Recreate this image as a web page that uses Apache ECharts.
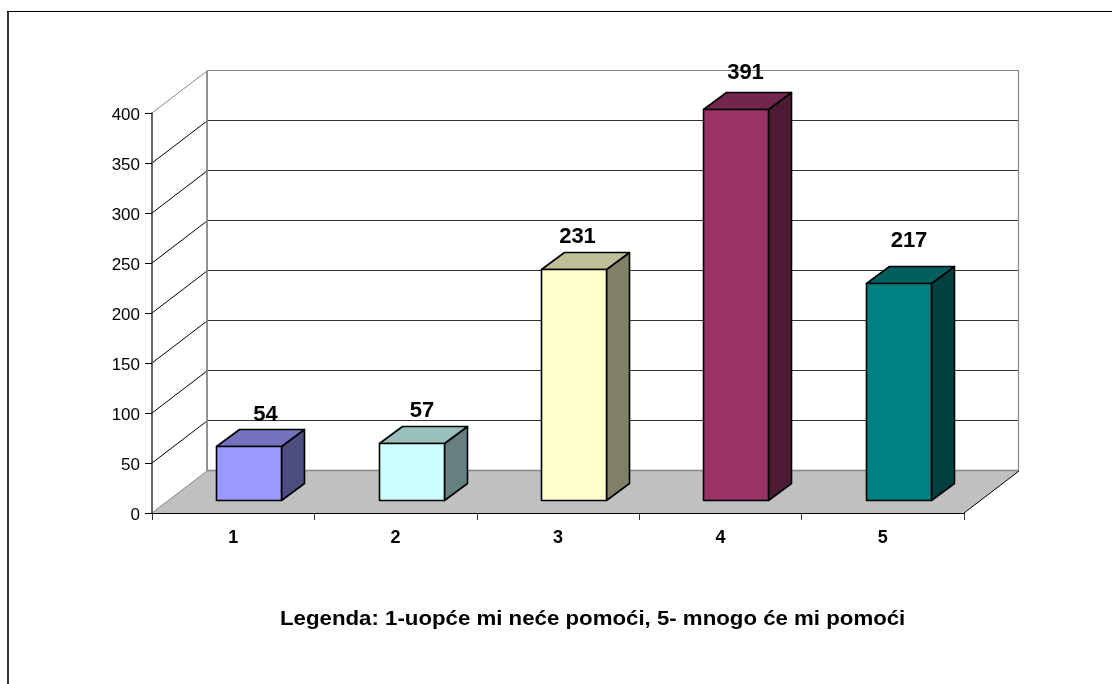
<!DOCTYPE html>
<html><head><meta charset="utf-8">
<style>html,body{margin:0;padding:0;background:#fff}#c{width:1112px;height:684px}</style>
<script src="https://cdn.jsdelivr.net/npm/echarts@6/dist/echarts.min.js"></script>
</head><body><div id="c"></div>
<script>
const categories = ['1','2','3','4','5'];
const values = [54,57,231,391,217];
const frontColors = ['#9999ff','#ccffff','#ffffcc','#993366','#008080'];
const topColors = ['#7373bf','#99bfbf','#bfbf99','#73264d','#006060'];
const sideColors = ['#4d4d80','#668080','#808066','#4d1a33','#004040'];
const yTicks = [0,50,100,150,200,250,300,350,400];
const legendText = 'Legenda: 1-uopće mi neće pomoći, 5- mnogo će mi pomoći';

const WALL = [55,-42], FRONT = [16,-13], SIDE = [23,-17];
const BAR_W = 65, FONT = 'Liberation Sans, Arial, sans-serif';
const labelNudgeX = [5,-1.5,-8,-2,-1.5];
const labelNudgeY = [8,7.5,7,3,-3];
const chart = echarts.init(document.getElementById('c'), null, {renderer:'canvas'});

function wallItem(params, api){
  const cs = params.coordSys;
  const x0 = cs.x, x1 = cs.x+cs.width, y0 = cs.y+cs.height, yT = cs.y;
  const ch = [];
  const gray = '#868686';
  ch.push({type:'polygon',shape:{points:[[x0,y0],[x1,y0],[x1+WALL[0],y0+WALL[1]],[x0+WALL[0],y0+WALL[1]]]},
    style:{fill:'#c0c0c0',stroke:null}});
  yTicks.forEach(t=>{
    const y = api.coord(['1',t])[1];
    const c = (t===400||t===0)?gray:'#000';
    ch.push({type:'line',shape:{x1:x0,y1:y,x2:x0+WALL[0],y2:y+WALL[1]},style:{stroke:c,lineWidth:1}});
    ch.push({type:'line',shape:{x1:x0+WALL[0],y1:Math.round(y+WALL[1])-.5,x2:x1+WALL[0],y2:Math.round(y+WALL[1])-.5},
      style:{stroke:(t===400||t===0)?gray:'#333',lineWidth:t===0?1.5:1.2}});
  });
  ch.push({type:'line',shape:{x1:x0+WALL[0],y1:yT+WALL[1],x2:x0+WALL[0],y2:y0+WALL[1]},style:{stroke:gray,lineWidth:1.8}});
  ch.push({type:'line',shape:{x1:x1+WALL[0]-.5,y1:yT+WALL[1],x2:x1+WALL[0]-.5,y2:y0+WALL[1]},style:{stroke:gray,lineWidth:1.2}});
  ch.push({type:'line',shape:{x1:x1,y1:y0,x2:x1+WALL[0],y2:y0+WALL[1]},style:{stroke:'#000',lineWidth:1}});
  return {type:'group',children:ch};
}
function barItem(params, api){
  const i = api.value(0), v = api.value(1);
  const c = api.coord([i,v]), b = api.coord([i,0]);
  const l = Math.floor(c[0]+FRONT[0]-BAR_W/2)+.5, r = l+BAR_W;
  const t = Math.round(c[1]+FRONT[1])+.5, bt = Math.round(b[1]+FRONT[1])+.5;
  const st = (f)=>({fill:f,stroke:'#000',lineWidth:1.6,lineJoin:'round'});
  const [dx,dy] = SIDE;
  return {type:'group',children:[
    {type:'polygon',shape:{points:[[r,t],[r+dx,t+dy],[r+dx,bt+dy],[r,bt]]},style:st(sideColors[i])},
    {type:'polygon',shape:{points:[[l,t],[l+dx,t+dy],[r+dx,t+dy],[r,t]]},style:st(topColors[i])},
    {type:'rect',shape:{x:l,y:t,width:BAR_W,height:bt-t},style:st(frontColors[i])},
    {type:'text',z2:10,style:{x:(l+r)/2+dx/2+labelNudgeX[i],y:t+dy-12+labelNudgeY[i],text:String(values[i]),fill:'#000',
      font:'bold 22px '+FONT,align:'center',verticalAlign:'bottom',lineHeight:22}}
  ]};
}
chart.setOption({
  animation:false,
  backgroundColor:'#fff',
  graphic:[
    {type:'polyline',shape:{points:[[8,684],[8,11.5]]},style:{stroke:'#333',fill:null,lineWidth:2},silent:true},
    {type:'line',shape:{x1:7,y1:11.5,x2:1112,y2:11.5},style:{stroke:'#000',lineWidth:1.2},silent:true},
    {type:'text',x:280,y:609,scaleX:1.112,style:{text:legendText,font:'bold 20px '+FONT,fill:'#000'}}
  ],
  grid:{left:152,top:113,width:812,height:400,containLabel:false},
  xAxis:{type:'category',data:categories,boundaryGap:true,z:5,
    axisLine:{show:true,lineStyle:{color:'#000',width:1}},
    axisTick:{show:true,alignWithLabel:false,length:7,lineStyle:{color:'#333'}},
    axisLabel:{fontFamily:FONT,fontWeight:'bold',fontSize:18,color:'#000',margin:16},
    splitLine:{show:false}},
  yAxis:{type:'value',min:0,max:400,interval:50,z:5,
    axisLine:{show:true,lineStyle:{color:'#333',width:1.5}},
    axisTick:{show:true,length:7,lineStyle:{color:'#000'}},
    axisLabel:{fontFamily:FONT,fontSize:17,color:'#000',margin:12,
      formatter:'{a|{value}}',rich:{a:{fontFamily:FONT,fontSize:17,color:'#000',padding:[5,0,0,0]}}},
    splitLine:{show:false}},
  series:[
    {type:'custom',coordinateSystem:'cartesian2d',data:[[0,0]],renderItem:wallItem,z:1,silent:true,clip:false},
    {type:'custom',coordinateSystem:'cartesian2d',data:values.map((v,i)=>[i,v]),encode:{x:0,y:1},renderItem:barItem,z:2,silent:true,clip:false}
  ]
});
</script></body></html>
